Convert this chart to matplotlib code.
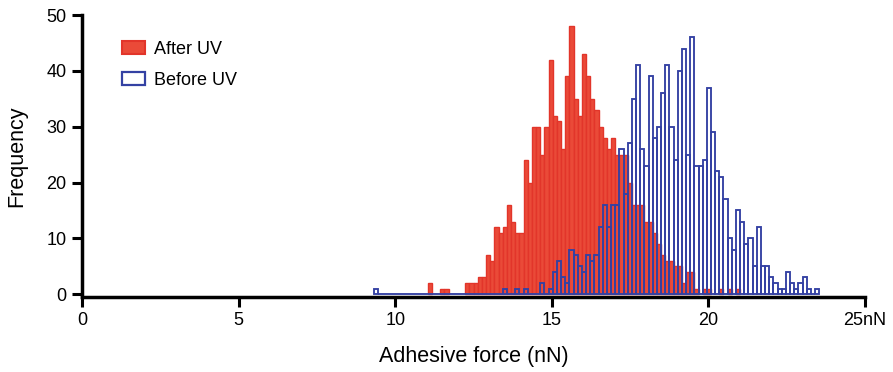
import numpy as np
import matplotlib
matplotlib.use('Agg')
import matplotlib.pyplot as plt
from matplotlib.patches import Patch

plt.rcParams['font.family'] = ['Liberation Sans', 'DejaVu Sans']

# ── histogram layout (common bins for both series) ──
BIN_START = 9.31      # left edge of first bin (nN)
BIN_WIDTH = 0.133     # nN

# Before UV counts, bins 0..106
before_uv = [1] + [0] * 30 + [
    1, 0, 0, 1, 0, 1, 0, 0, 0,
    2, 0, 1, 4, 6, 3, 2, 8, 7, 5,
    4, 7, 6, 7, 12, 16, 12, 16, 16, 26,
    18, 27, 35, 41, 26, 23, 39, 28, 30, 36,
    41, 30, 24, 40, 44, 25, 46, 23, 23, 24,
    37, 29, 22, 21, 17, 10, 8, 15, 13, 9,
    10, 5, 12, 5, 5, 3, 2, 1, 1, 4,
    2, 1, 2, 3, 1, 0, 1,
]

# After UV counts, starting at bin 13
AFTER_OFFSET = 13
after_uv = [
    2, 0, 0, 1, 1, 0, 0, 0, 0, 2,
    2, 2, 3, 3, 7, 6, 12, 11, 12, 16,
    13, 11, 11, 24, 20, 30, 30, 25, 30, 42,
    32, 31, 26, 39, 48, 35, 32, 43, 39, 35,
    33, 30, 28, 26, 28, 25, 25, 25, 20, 16,
    16, 16, 13, 13, 11, 9, 7, 6, 6, 5,
    5, 2, 4, 4, 1, 0, 1, 1, 0, 0,
    1, 0, 1, 0, 1,
]

x_ticks = [0, 5, 10, 15, 20, 25]
x_tick_labels = ['0', '5', '10', '15', '20', '25nN']
y_ticks = [0, 10, 20, 30, 40, 50]

RED_FACE = '#ea4a38'
RED_EDGE = '#e2352a'
BLUE = '#3441a3'

fig = plt.figure(figsize=(8.93, 3.72), dpi=100)
ax = fig.add_axes([82 / 893, (372 - 297) / 372, (865 - 82) / 893, (297 - 15) / 372])

before = np.array(before_uv, dtype=float)
after = np.array(after_uv, dtype=float)
edges_b = BIN_START + BIN_WIDTH * np.arange(len(before))
edges_a = BIN_START + BIN_WIDTH * (AFTER_OFFSET + np.arange(len(after)))

mask = after > 0
ax.bar(edges_a[mask], after[mask], width=BIN_WIDTH, align='edge',
       facecolor=RED_FACE, edgecolor=RED_EDGE, linewidth=1.0, zorder=2)
ax.bar(edges_b, before, width=BIN_WIDTH, align='edge',
       facecolor='none', edgecolor=BLUE, linewidth=1.35, zorder=3)

ax.set_xlim(0, 25)
ax.set_ylim(-0.5, 50)
ax.set_xticks(x_ticks)
ax.set_xticklabels(x_tick_labels)
ax.set_yticks(y_ticks)

for s in ['top', 'right']:
    ax.spines[s].set_visible(False)
for s in ['left', 'bottom']:
    ax.spines[s].set_linewidth(2.5)
    ax.spines[s].set_color('black')
ax.tick_params(direction='out', length=7, width=2.2, labelsize=13, colors='black', pad=4)

ax.set_xlabel('Adhesive force (nN)', fontsize=15.5, labelpad=12)
ax.set_ylabel('Frequency', fontsize=15.5, labelpad=14)

handles = [Patch(facecolor=RED_FACE, edgecolor=RED_EDGE, linewidth=1.5),
           Patch(facecolor='none', edgecolor=BLUE, linewidth=1.6)]
ax.legend(handles, ['After UV', 'Before UV'], loc='upper left',
          bbox_to_anchor=(0.03, 0.965), frameon=False, fontsize=13,
          handlelength=1.3, handleheight=0.75, handletextpad=0.5, labelspacing=0.75)

fig.savefig('out.png', dpi=100)
